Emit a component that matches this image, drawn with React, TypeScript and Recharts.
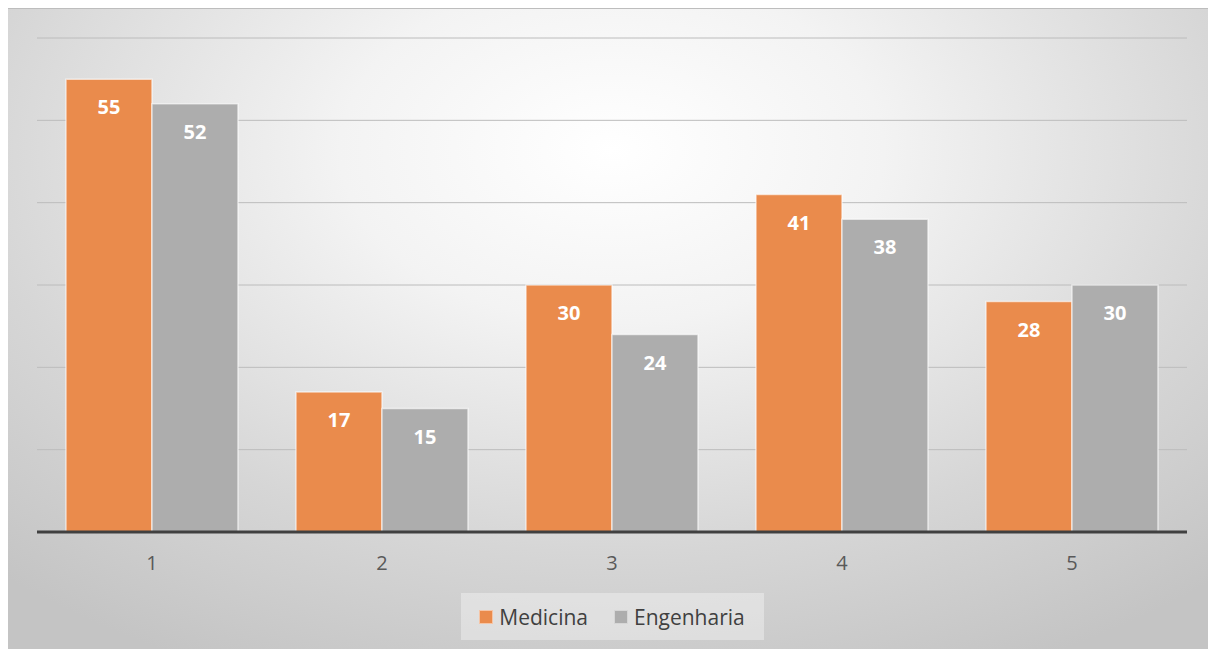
import React from "react";
import { BarChart, Bar, XAxis, YAxis, CartesianGrid, Legend, LabelList } from "recharts";

const categories = ["1", "2", "3", "4", "5"];
const medicina = [55, 17, 30, 41, 28];
const engenharia = [52, 15, 24, 38, 30];
const yTicks = [0, 10, 20, 30, 40, 50, 60];

const ORANGE = "#EA8B4C";
const GRAY = "#ADADAD";

const data = categories.map((c, i) => ({
  name: c,
  Medicina: medicina[i],
  Engenharia: engenharia[i],
}));

const FONT = "'Open Sans', 'Liberation Sans', sans-serif";

function LegendBox() {
  const items = [
    { label: "Medicina", color: ORANGE },
    { label: "Engenharia", color: GRAY },
  ];
  return (
    <div style={{ display: "flex", justifyContent: "center" }}>
      <div
        style={{
          height: 47,
          width: 303,
          background: "rgba(255,255,255,0.35)",
          display: "flex",
          alignItems: "center",
          justifyContent: "center",
          gap: 26,
          fontFamily: FONT,
          fontSize: 21,
          color: "#404040",
        }}
      >
        {items.map((it) => (
          <div key={it.label} style={{ display: "flex", alignItems: "center", gap: 6 }}>
            <span
              style={{
                width: 12,
                height: 12,
                background: it.color,
                border: "1px solid rgba(255,255,255,0.5)",
              }}
            />
            {it.label}
          </div>
        ))}
      </div>
    </div>
  );
}

export default function App() {
  return (
    <div
      style={{
        width: 1208,
        height: 641,
        boxSizing: "border-box",
        borderTop: "1px solid #bdbdbd",
        background:
          "radial-gradient(ellipse 75% 90% at 50% 22%, #ffffff 0%, #f3f3f3 30%, #d6d6d6 70%, #c4c4c4 100%)",
      }}
    >
      <BarChart
        width={1208}
        height={640}
        data={data}
        margin={{ top: 29, right: 29, bottom: 30, left: 29 }}
        barCategoryGap="12.6%"
        barGap={0}
      >
        <CartesianGrid horizontal vertical={false} stroke="#bcbcbc" strokeWidth={1} />
        <YAxis hide domain={[0, 60]} ticks={yTicks} />
        <XAxis
          dataKey="name"
          height={40}
          axisLine={{ stroke: "#404040", strokeWidth: 3 }}
          tickLine={false}
          tick={{ fill: "#595959", fontSize: 20, fontFamily: FONT }}
          tickMargin={18}
        />
        <Legend
          verticalAlign="bottom"
          wrapperStyle={{ bottom: 9 }}
          content={() => <LegendBox />}
        />
        <Bar
          dataKey="Medicina"
          fill={ORANGE}
          stroke="rgba(255,255,255,0.6)"
          strokeWidth={1.5}
          isAnimationActive={false}
        >
          <LabelList
            dataKey="Medicina"
            position="insideTop"
            offset={21}
            fill="#ffffff"
            fontSize={20}
            fontWeight="bold"
            fontFamily={FONT}
          />
        </Bar>
        <Bar
          dataKey="Engenharia"
          fill={GRAY}
          stroke="rgba(255,255,255,0.6)"
          strokeWidth={1.5}
          isAnimationActive={false}
        >
          <LabelList
            dataKey="Engenharia"
            position="insideTop"
            offset={21}
            fill="#ffffff"
            fontSize={20}
            fontWeight="bold"
            fontFamily={FONT}
          />
        </Bar>
      </BarChart>
    </div>
  );
}
